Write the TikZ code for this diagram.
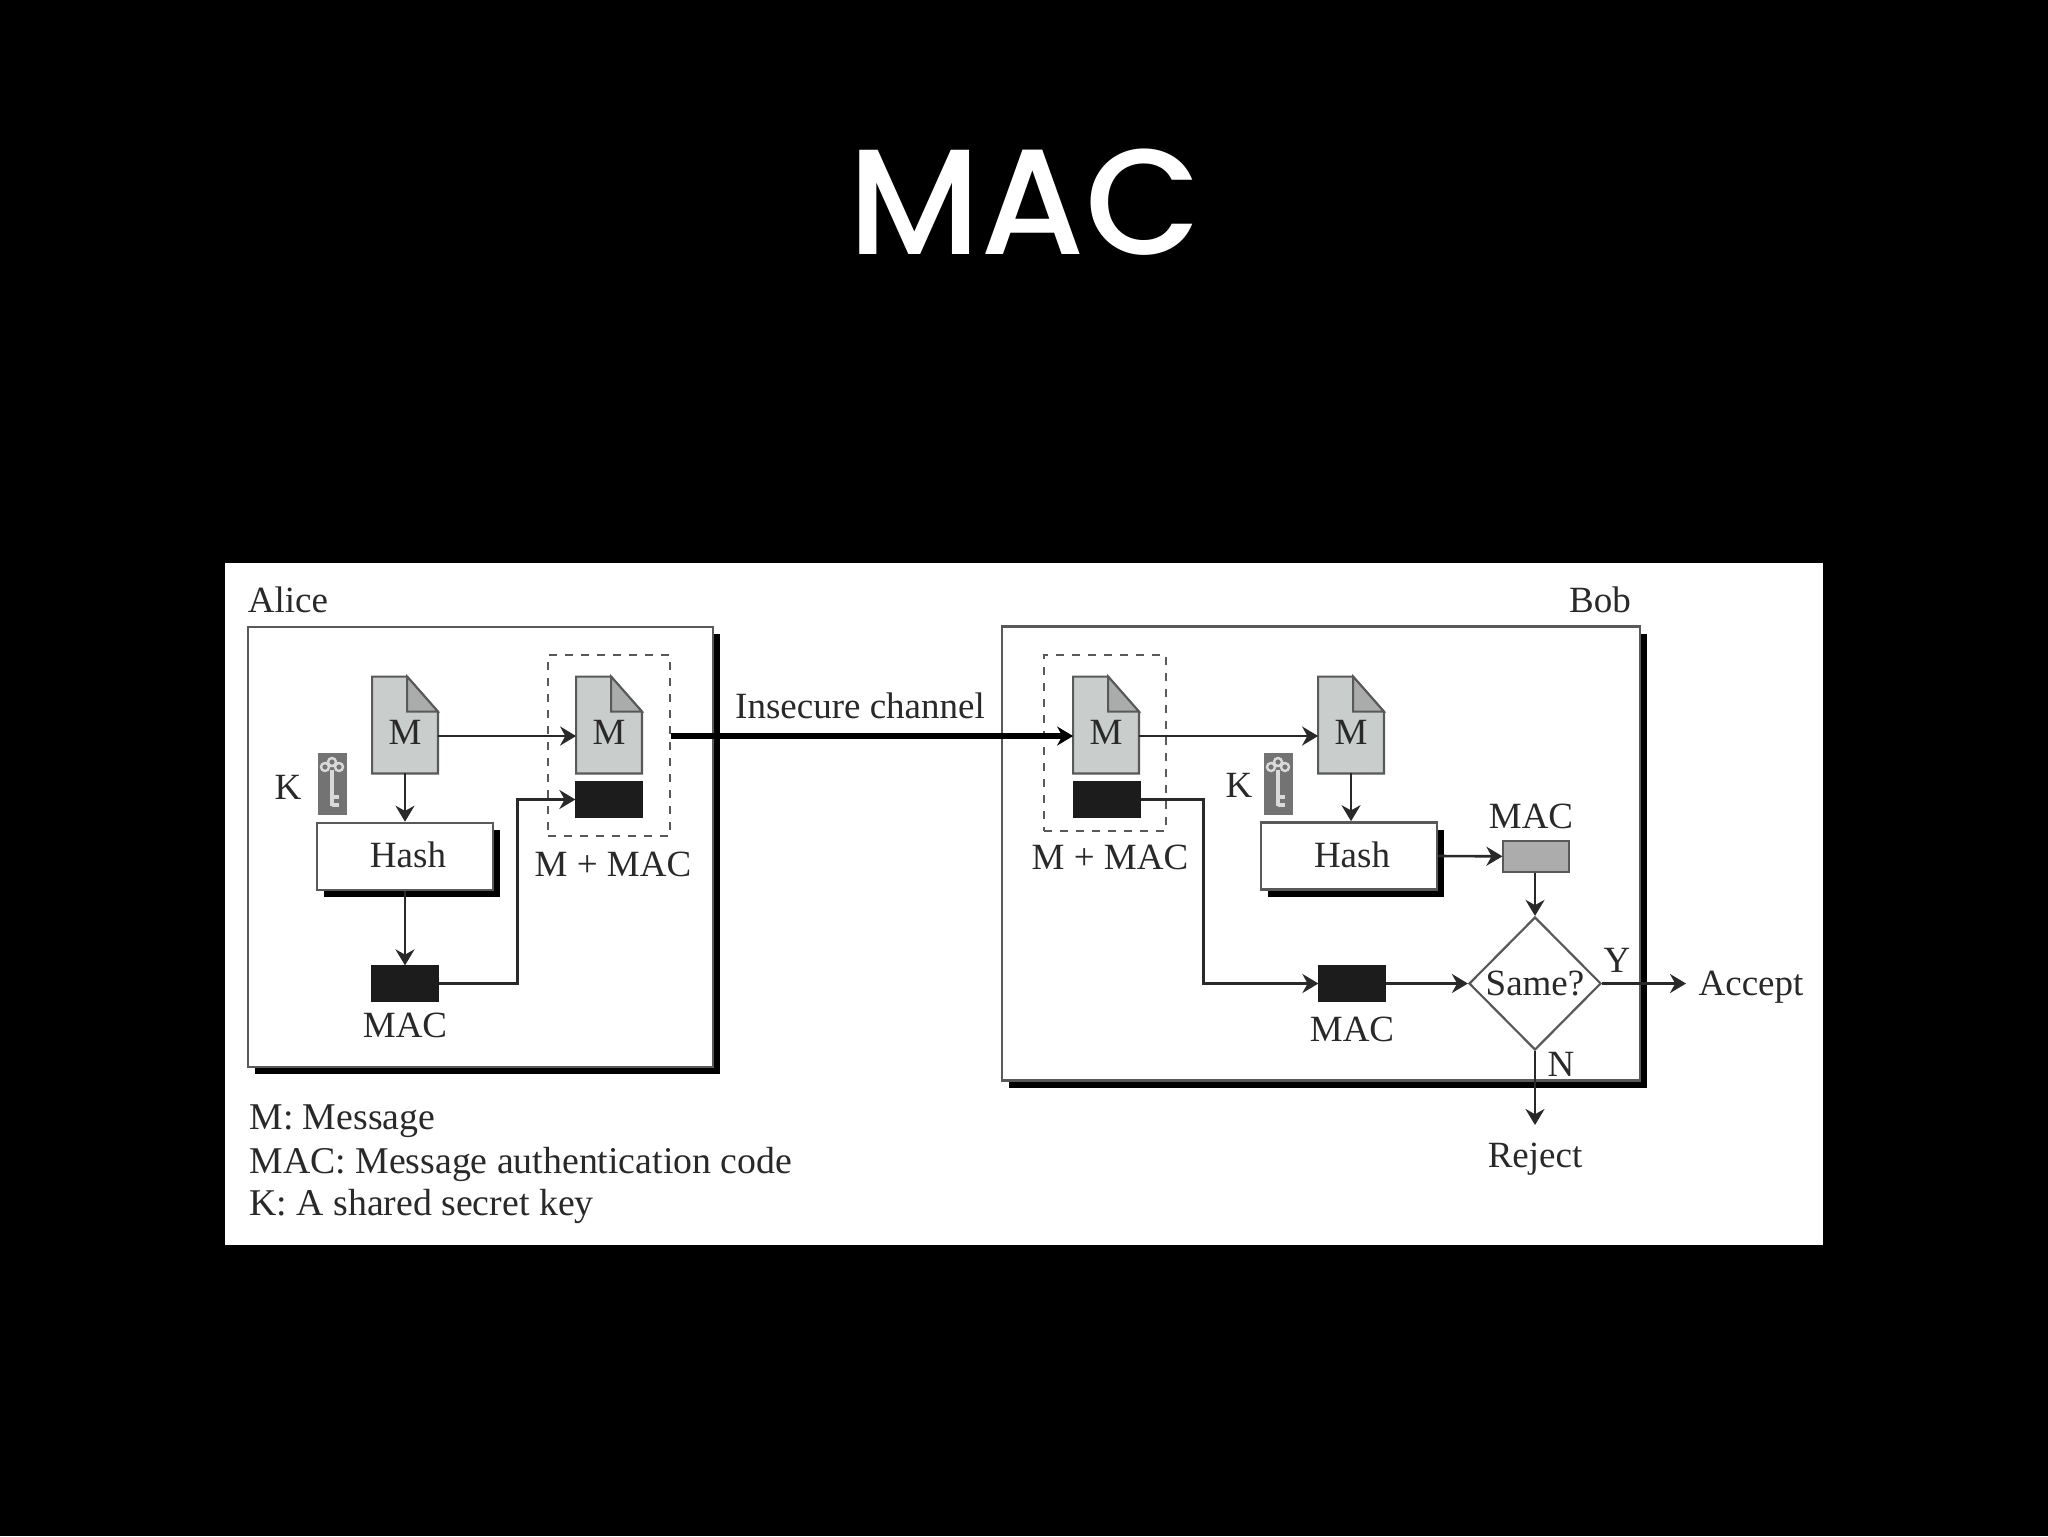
\documentclass[tikz,border=0pt]{standalone}
\usepackage{fontspec}
\setmainfont{Liberation Serif}
\newfontfamily\titlefont{Poppins Medium}
\usetikzlibrary{arrows.meta,shapes.geometric,shadows,calc}
\definecolor{inkgray}{gray}{0.16}
\definecolor{edgegray}{gray}{0.35}
\definecolor{docgray}{HTML}{C9CECC}
\definecolor{foldgray}{HTML}{A9ACAB}
\definecolor{keygray}{gray}{0.45}
\definecolor{tagdark}{gray}{0.11}
\tikzset{
  lab/.style={inner sep=0pt,text=inkgray},
  legend/.style={lab,anchor=west,font=\fontsize{18.9pt}{22pt}\selectfont},
  party/.style={rectangle,draw=edgegray,fill=white,line width=1.3pt,inner sep=0pt,drop shadow={shadow xshift=3.5pt,shadow yshift=-3.5pt,fill=black,opacity=1}},
  hashbox/.style={party,minimum width=88pt,minimum height=33.5pt,text=inkgray},
  docbox/.style={rectangle,inner sep=0pt,minimum width=32.5pt,minimum height=48pt},
  doc/.style={draw=edgegray,fill=docgray,line width=1.1pt,line join=miter},
  fold/.style={draw=edgegray,fill=foldgray,line width=1pt},
  tag/.style={rectangle,draw=tagdark,fill=tagdark,inner sep=0pt,minimum width=33pt,minimum height=17.5pt,line width=.6pt},
  graytag/.style={tag,draw=edgegray,fill=gray!65,minimum height=15.5pt},
  bundle/.style={rectangle,draw=edgegray,line width=1.1pt,inner sep=0pt,dash pattern=on 4pt off 4pt},
  keybox/.style={rectangle,fill=keygray,inner sep=0pt,minimum width=14.5pt,minimum height=31pt},
  wire/.style={->,draw=inkgray,line width=1.3pt},
}
\begin{document}
\begin{tikzpicture}[x=0.5pt,y=-0.5pt,>={Stealth[length=8pt,width=9.5pt]},font=\fontsize{18.5pt}{22pt}\selectfont]
\useasboundingbox (0,0) rectangle (2048,1536);
\fill[black] (0,0) rectangle (2048,1536);
\fill[white] (225,563) rectangle (1823,1245);
\node[text=white,inner sep=0pt,font=\titlefont\fontsize{75pt}{90pt}\selectfont] (title) at (1025,202) {MAC};
% the two parties
\node[party,minimum width=232.5pt,minimum height=220pt] (alice-box) at (480.5,847) {};
\node[party,minimum width=319pt,minimum height=227pt] (bob-box) at (1321,853.5) {};
\node[lab] (alice) at (288,600) {Alice};
\node[lab] (bob) at (1600,600) {Bob};
% message pages
\foreach \nm/\cx in {doc-a/405,doc-b/609,doc-c/1106,doc-d/1351}{
  \node[docbox] (\nm) at (\cx,725) {};
  \draw[doc] (\nm.north west) -- ++(35,0) -- ($(\nm.north east)+(0,35)$) -- (\nm.south east) -- (\nm.south west) -- cycle;
  \draw[fold] ($(\nm.north west)+(35,0)$) -- ($(\nm.north east)+(0,35)$) -- ($(\nm.north west)+(35,35)$) -- cycle;
  \node[lab] (\nm-m) at (\cx,732) {M};
}
% shared keys
\foreach \nm/\cx in {key-a/332,key-b/1278}{
  \node[keybox] (\nm) at (\cx,784) {};
  \draw[white!85!black,line width=1.2pt] (\cx-7,767) circle (4) (\cx+7,767) circle (4) (\cx,762) circle (4);
  \draw[white!85!black,line width=1.6pt] (\cx,770) -- (\cx,806) (\cx,797) -- (\cx+7,797) (\cx,805) -- (\cx+7,805);
}
\node[lab] (k-a) at (288,787) {K};
\node[lab] (k-b) at (1239,785) {K};
% alice side
\node[hashbox] (hash-a) at (405,856.5) {\raisebox{2pt}{\hspace*{3pt}Hash}};
\node[tag] (mac-a) at (405,983.5) {};
\node[lab] (mac-a-txt) at (405,1025) {MAC};
\node[tag] (tag-a) at (609,799.5) {};
\node[bundle,minimum width=61pt,minimum height=90.5pt] (pack-a) at (609,745.5) {};
\node[lab] (pack-a-txt) at (613,864) {M + MAC};
% bob side
\node[tag] (tag-b) at (1107,799.5) {};
\node[bundle,minimum width=61pt,minimum height=88pt] (pack-b) at (1105,743) {};
\node[lab] (pack-b-txt) at (1110,857) {M + MAC};
\node[hashbox] (hash-b) at (1349,856) {\raisebox{1pt}{\hspace*{3pt}Hash}};
\node[graytag] (mac-c) at (1536,856.5) {};
\node[lab] (mac-c-txt) at (1531,816) {MAC};
\node[tag] (mac-b) at (1352,983.5) {};
\node[lab] (mac-b-txt) at (1352,1029) {MAC};
\node[diamond,draw=edgegray,fill=white,line width=1.1pt,inner sep=0pt,aspect=1,minimum width=66pt,minimum height=66.5pt,text=inkgray] (same) at (1535,983.5) {Same?};
\node[lab] (accept) at (1751,987) {Accept};
\node[lab] (reject) at (1535,1159) {Reject};
\node[lab] (yes) at (1617,960) {Y};
\node[lab] (no) at (1561,1064) {N};
\coordinate (accept-in) at (1686,983.5);
\coordinate (reject-in) at (1535,1125);
% connectors
\draw[wire] (doc-a.south) -- (hash-a.north -| doc-a.south);
\draw[wire] (hash-a.south -| doc-a.south) -- (mac-a);
\draw[wire] ($(doc-a.east)+(0,11)$) -- ($(doc-b.west)+(0,11)$);
\draw[wire] (mac-a.east) -- ++(79,0) |- (tag-a);
\draw[->,draw=black,line width=2.6pt] ($(pack-a.east)+(0,-9.5)$) -- ($(doc-c.west)+(0,11)$);
\draw[wire] ($(doc-c.east)+(0,11)$) -- ($(doc-d.west)+(0,11)$);
\draw[wire] (doc-d.south) -- (hash-b.north -| doc-d.south);
\draw[wire] (tag-b.east) -- ++(63,0) |- (mac-b);
\draw[wire] (hash-b.east) -- (mac-c);
\draw[wire] (same.north |- mac-c.south) -- (same.north);
\draw[wire] (mac-b) -- (same);
\draw[wire] (same.east) -- (accept-in);
\draw[wire] (same.south) -- (reject-in);
% legend
\node[legend] (leg-m) at (249,1121) {M: Message};
\node[legend] (leg-mac) at (249,1164) {MAC: Message authentication code};
\node[legend] (leg-k) at (249,1206) {K: A shared secret key};
\node[lab] (channel) at (860,706) {Insecure channel};
\end{tikzpicture}
\end{document}
